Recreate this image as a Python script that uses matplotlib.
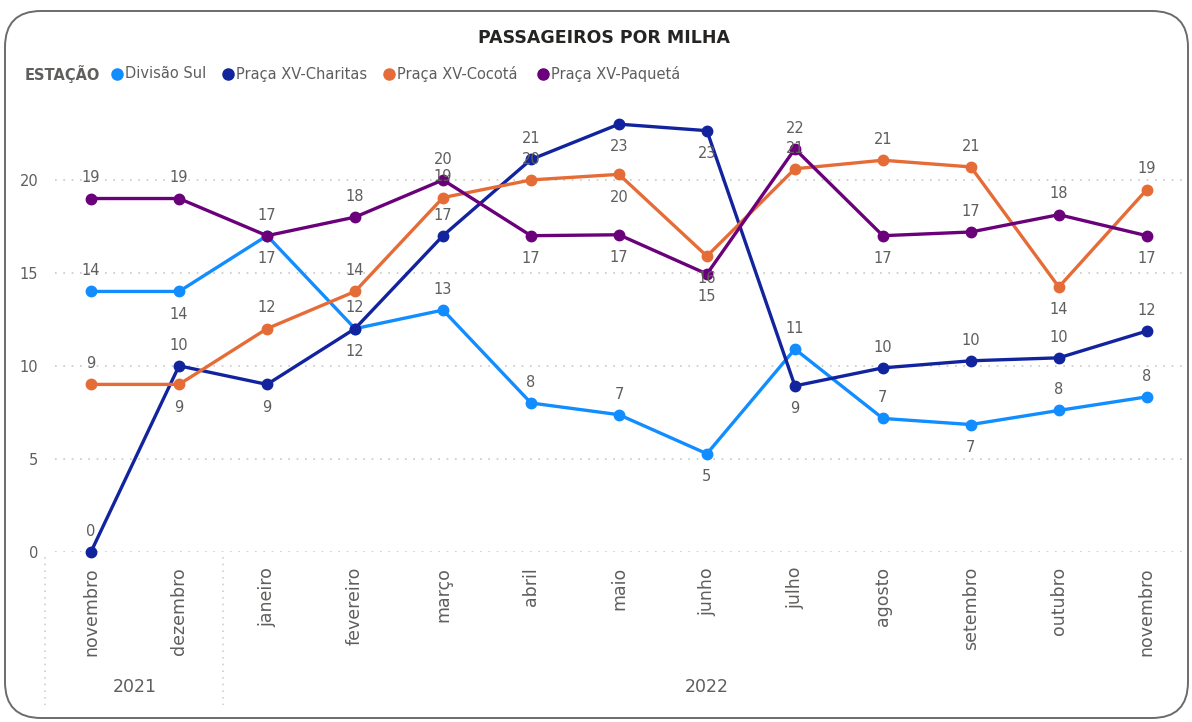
import matplotlib
matplotlib.use("Agg")

import matplotlib.pyplot as plt
import matplotlib.transforms as mtransforms
from matplotlib.lines import Line2D
from matplotlib.patches import FancyBboxPatch

# ---------------------------------------------------------------------------
# Data
# ---------------------------------------------------------------------------
months = ["novembro", "dezembro", "janeiro", "fevereiro", "março", "abril",
          "maio", "junho", "julho", "agosto", "setembro", "outubro", "novembro"]
years = ["2021", "2022"]
year_centers = [0.5, 7.0]

divisao_sul = [14.0, 14.0, 17.0, 12.0, 13.0, 8.0, 7.37, 5.27, 10.9, 7.17, 6.84, 7.6, 8.33]
charitas = [0.0, 10.0, 9.0, 12.0, 17.0, 21.1, 23.0, 22.65, 8.92, 9.89, 10.27, 10.43, 11.87]
cocota = [9.0, 9.0, 12.0, 14.0, 19.05, 20.0, 20.3, 15.9, 20.6, 21.06, 20.7, 14.24, 19.48]
paqueta = [19.0, 19.0, 17.0, 18.0, 20.0, 17.0, 17.05, 14.94, 21.67, 17.0, 17.2, 18.13, 17.0]

series_names = ["Divisão Sul", "Praça XV-Charitas", "Praça XV-Cocotá", "Praça XV-Paquetá"]

# label placement: 1 = above the point, -1 = below
pos_divisao = [1, -1, -1, -1, 1, 1, 1, -1, 1, 1, -1, 1, 1]
pos_charitas = [1, 1, -1, 1, 1, 1, -1, -1, -1, 1, 1, 1, 1]
pos_cocota = [1, -1, 1, 1, 1, 1, -1, -1, 1, 1, 1, -1, 1]
pos_paqueta = [1, 1, 1, 1, 1, -1, -1, -1, 1, -1, 1, 1, -1]

colors = ["#118DFF", "#12239E", "#E66C37", "#6B007B"]
GREY = "#605E5C"

# ---------------------------------------------------------------------------
# Figure
# ---------------------------------------------------------------------------
W, H = 1192, 722
fig = plt.figure(figsize=(W / 100, H / 100), dpi=100)
fig.patch.set_facecolor("white")

# rounded card border drawn in pixel space
bg = fig.add_axes([0, 0, 1, 1], zorder=0)
bg.set_xlim(0, W)
bg.set_ylim(H, 0)
bg.axis("off")
bg.add_patch(FancyBboxPatch((5, 11), W - 9, H - 15,
                            boxstyle="round,pad=0,rounding_size=36",
                            fc="white", ec="#6b6b6b", lw=1.4))

ax_left, ax_right = 55, 1182
ax_top, ax_bottom = 100, 551.7
ax = fig.add_axes([ax_left / W, 1 - ax_bottom / H,
                   (ax_right - ax_left) / W, (ax_bottom - ax_top) / H], zorder=2)
ax.patch.set_alpha(0)

x = list(range(len(months)))
all_series = [divisao_sul, charitas, cocota, paqueta]
all_pos = [pos_divisao, pos_charitas, pos_cocota, pos_paqueta]

for vals, color in zip(all_series, colors):
    ax.plot(x, vals, color=color, lw=2.4, marker="o", ms=7.5,
            solid_joinstyle="round", clip_on=False, zorder=3)

for vals, where in zip(all_series, all_pos):
    for xi, v, p in zip(x, vals, where):
        ax.annotate(f"{v:.0f}", (xi, v), xytext=(0, 9.5 * p if p > 0 else -11),
                    textcoords="offset points", ha="center",
                    va="bottom" if p > 0 else "top",
                    fontsize=10.5, color=GREY, zorder=4)

ax.set_xlim(-0.41, 12.4)
ax.set_ylim(0, 24.3)

ax.set_yticks([0, 5, 10, 15, 20])
ax.yaxis.grid(True, linestyle=(0, (1, 4)), color="#c8c8c8", lw=1.2)
ax.set_axisbelow(True)
ax.tick_params(axis="y", length=0, pad=12, labelsize=10.5, labelcolor=GREY)

ax.set_xticks(x)
ax.set_xticklabels(months, rotation=90, va="top", ha="center")
ax.tick_params(axis="x", length=0, pad=11, labelsize=12.5, labelcolor=GREY)

for s in ax.spines.values():
    s.set_visible(False)

# year labels and separators below the month labels
trans = mtransforms.blended_transform_factory(ax.transData, fig.transFigure)
for yr, xc in zip(years, year_centers):
    ax.text(xc, 1 - 687 / H, yr, transform=trans, ha="center", va="center",
            fontsize=12.5, color=GREY)
for xs in [-0.52, 1.5]:
    ax.add_line(Line2D([xs, xs], [1 - 557 / H, 1 - 705 / H], transform=trans,
                       color="#d0d0d0", lw=1.2, linestyle=(0, (1, 3)),
                       clip_on=False))

# title
fig.text(604 / W, 1 - 38 / H, "PASSAGEIROS POR MILHA", ha="center", va="center",
         fontsize=12.5, fontweight="bold", color="#252423")

# legend row
ly = 1 - 74 / H
fig.text(25 / W, ly, "ESTAÇÃO", ha="left", va="center", fontsize=10.5,
         fontweight="bold", color=GREY)
dot_x = [117, 228, 389, 543]
for name, color, dx in zip(series_names, colors, dot_x):
    bg.plot(dx, 74, marker="o", ms=8, color=color, clip_on=False)
    fig.text((dx + 8) / W, ly, name, ha="left", va="center", fontsize=10.5,
             color=GREY)

fig.savefig("out.png", dpi=100, facecolor="white")
